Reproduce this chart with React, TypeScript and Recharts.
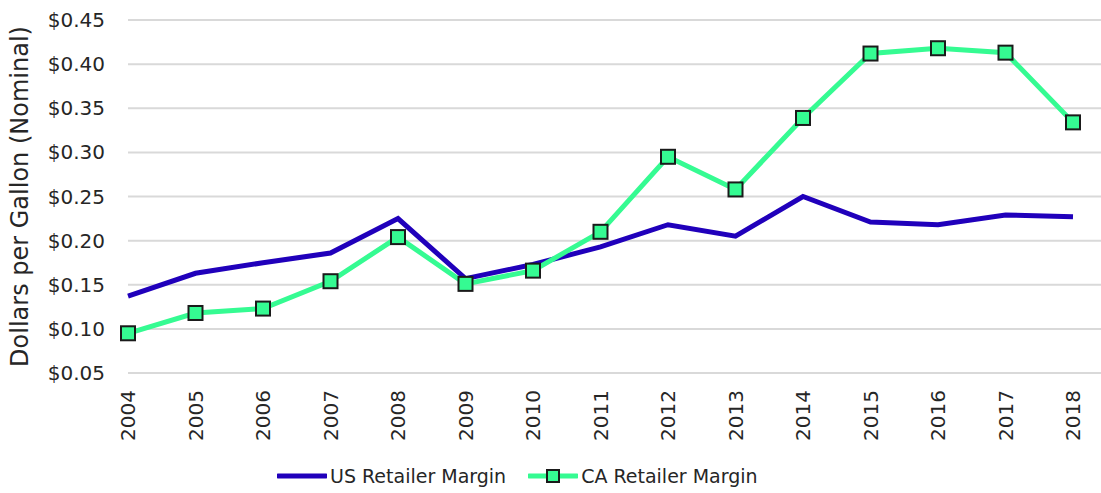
import { LineChart, Line, XAxis, YAxis, CartesianGrid, Legend } from 'recharts'

const years = ['2004', '2005', '2006', '2007', '2008', '2009', '2010', '2011', '2012', '2013', '2014', '2015', '2016', '2017', '2018']
const usMargin = [0.137, 0.163, 0.175, 0.186, 0.225, 0.157, 0.173, 0.193, 0.218, 0.205, 0.25, 0.221, 0.218, 0.229, 0.227]
const caMargin = [0.095, 0.118, 0.123, 0.154, 0.204, 0.151, 0.166, 0.21, 0.295, 0.258, 0.339, 0.412, 0.418, 0.413, 0.334]
const yTicks = [0.05, 0.1, 0.15, 0.2, 0.25, 0.3, 0.35, 0.4, 0.45]

const US_COLOR = '#2000BB'
const CA_COLOR = '#35FB92'
const TEXT = '#262626'
const FONT = '"DejaVu Sans", sans-serif'

const data = years.map((year, i) => ({
  year,
  us: usMargin[i],
  ca: caMargin[i],
}))

// square marker like the excel one
const SquareDot = (props: any) => {
  const { cx, cy, index } = props
  if (cx == null || cy == null) return <g key={index} />
  return (
    <rect
      key={index}
      x={cx - 7}
      y={cy - 7}
      width={14}
      height={14}
      fill={CA_COLOR}
      stroke="#1a1a1a"
      strokeWidth={2}
    />
  )
}

const YearTick = ({ x, y, payload }: any) => (
  <g transform={`translate(${x},${y})`}>
    <text
      transform="rotate(-90)"
      textAnchor="end"
      dy="0.35em"
      fontSize={20}
      fill={TEXT}
      fontFamily={FONT}
    >
      {payload.value}
    </text>
  </g>
)

const LegendContent = () => (
  <div
    style={{
      display: 'flex',
      alignItems: 'center',
      marginLeft: 277,
      paddingTop: 12,
      fontFamily: FONT,
      fontSize: 19,
      color: TEXT,
    }}
  >
    <svg width={50} height={16}>
      <line x1={1} y1={8} x2={49} y2={8} stroke={US_COLOR} strokeWidth={5} strokeLinecap="round" />
    </svg>
    <span style={{ marginLeft: 3 }}>US Retailer Margin</span>
    <svg width={50} height={16} style={{ marginLeft: 22 }}>
      <line x1={1} y1={8} x2={49} y2={8} stroke={CA_COLOR} strokeWidth={5} strokeLinecap="round" />
      <rect x={19} y={2} width={12} height={12} fill={CA_COLOR} stroke="#1a1a1a" strokeWidth={2} />
    </svg>
    <span style={{ marginLeft: 3 }}>CA Retailer Margin</span>
  </div>
)

export default function App() {
  return (
    <div style={{ position: 'absolute', left: 0, top: 0, background: '#fff' }}>
      <LineChart
        width={1101}
        height={493}
        data={data}
        margin={{ top: 20, right: 0, left: 0, bottom: 0 }}
      >
        <CartesianGrid vertical={false} stroke="#d9d9d9" strokeWidth={2} />
        <XAxis
          dataKey="year"
          axisLine={false}
          tickLine={false}
          tickSize={0}
          tickMargin={17}
          height={80}
          interval={0}
          padding={{ left: 0, right: 28 }}
          tick={<YearTick />}
        />
        <YAxis
          domain={[0.05, 0.45]}
          ticks={yTicks}
          axisLine={false}
          tickLine={false}
          tickSize={0}
          tickMargin={23}
          width={128}
          tick={{ fontSize: 20, fill: TEXT, fontFamily: FONT }}
          tickFormatter={(v: number) => `$${v.toFixed(2)}`}
          label={{
            value: 'Dollars per Gallon (Nominal)',
            angle: -90,
            position: 'insideLeft',
            offset: 19,
            style: { textAnchor: 'middle', fontSize: 24, fill: TEXT, fontFamily: FONT },
          }}
        />
        <Legend verticalAlign="bottom" height={40} content={<LegendContent />} wrapperStyle={{ left: 0, width: 1101 }} />
        <Line
          type="linear"
          dataKey="us"
          name="US Retailer Margin"
          stroke={US_COLOR}
          strokeWidth={5}
          dot={false}
          isAnimationActive={false}
        />
        <Line
          type="linear"
          dataKey="ca"
          name="CA Retailer Margin"
          stroke={CA_COLOR}
          strokeWidth={5}
          dot={<SquareDot />}
          isAnimationActive={false}
        />
      </LineChart>
    </div>
  )
}
